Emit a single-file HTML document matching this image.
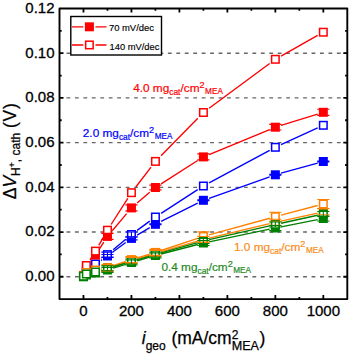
<!DOCTYPE html><html><head><meta charset="utf-8"><style>html,body{margin:0;padding:0;background:#fff;width:350px;height:354px;overflow:hidden}svg{display:block;font-family:"Liberation Sans",sans-serif}</style></head><body><svg width="350" height="354" viewBox="0 0 350 354" font-family="Liberation Sans, sans-serif"><g stroke="#666" stroke-width="1.4" stroke-dasharray="3.8 4.65"><line x1="66.5" y1="232.04" x2="347.3" y2="232.04"/><line x1="66.5" y1="187.33" x2="347.3" y2="187.33"/><line x1="66.5" y1="142.62" x2="347.3" y2="142.62"/><line x1="66.5" y1="97.92" x2="347.3" y2="97.92"/><line x1="66.5" y1="53.21" x2="347.3" y2="53.21"/><line x1="66.5" y1="276.75" x2="347.3" y2="276.75"/></g><path d="M90.69 261.3L91.15 260.7M99.15 249.3L103.79 242.1M112.26 230.7L126.65 213.6M137.15 203.05L149.73 192.35M161.13 183.86L197.7 160.54M209.1 154.55L269.65 129.55M281.05 125.43L317.62 114.07" stroke="#ff0000" stroke-width="1.35" fill="none"/><path d="M89.97 259.8L91.87 256.8M98.75 245.4L104.2 235.9M111.11 224.5L127.8 198.4M135.82 187L151.07 167.1M161.02 155.7L197.81 118.2M209.1 108.29L269.65 63.51M281.05 56.08L317.62 35.42" stroke="#ff0000" stroke-width="1.35" fill="none"/><path d="M101.17 260.72L101.77 260.28M113.17 251.82L125.75 242.58M137.15 235.05L149.73 227.65M161.13 221.45L197.7 203.15M209.1 198.28L269.65 176.82M281.05 173.22L317.62 163.08" stroke="#0000ff" stroke-width="1.35" fill="none"/><path d="M101.17 259.53L101.77 259.07M113.17 249.82L125.75 239.28M137.15 230.34L149.73 221.16M161.13 213.32L197.7 189.68M209.1 182.93L269.65 150.37M281.05 144.69L317.62 127.91" stroke="#0000ff" stroke-width="1.35" fill="none"/><path d="M101.17 269.81L101.77 269.69M113.17 266.6L125.75 262.4M137.15 258.84L149.73 255.16M161.13 251.84L197.7 241.16M209.1 238.14L269.65 223.66M281.05 221.05L317.62 213.05" stroke="#ff8000" stroke-width="1.35" fill="none"/><path d="M101.17 268.81L101.77 268.69M113.17 265.62L125.75 261.48M137.15 257.89L149.73 254.11M161.13 250.5L197.7 238.3M209.1 234.84L269.65 218.26M281.05 215.19L317.62 205.51" stroke="#ff8000" stroke-width="1.35" fill="none"/><path d="M101.17 271.57L101.77 271.43M113.17 268.22L125.75 264.28M137.15 260.84L149.73 257.16M161.13 254.01L197.7 244.49M209.1 241.81L269.65 229.19M281.05 226.87L317.62 219.63" stroke="#008000" stroke-width="1.35" fill="none"/><path d="M101.17 270.29L101.77 270.11M113.17 266.76L125.75 263.14M137.15 259.84L149.73 256.16M161.13 252.9L197.7 242.6M209.1 239.69L269.65 225.81M281.05 223.25L317.62 215.25" stroke="#008000" stroke-width="1.35" fill="none"/><g fill="#0000ff"><rect x="78.98" y="271.8" width="9" height="9"/><rect x="81.86" y="267.5" width="9" height="9"/><rect x="90.97" y="260.5" width="9" height="9"/><rect x="102.97" y="251.5" width="9" height="9"/><rect x="126.95" y="233.9" width="9" height="9"/><rect x="150.93" y="219.8" width="9" height="9"/><rect x="198.9" y="195.8" width="9" height="9"/><rect x="270.85" y="170.3" width="9" height="9"/><rect x="318.82" y="157" width="9" height="9"/></g><g fill="#fff" stroke="#0000ff" stroke-width="1.5"><rect x="79.73" y="272.05" width="7.5" height="7.5"/><rect x="82.61" y="267.25" width="7.5" height="7.5"/><rect x="91.72" y="260.25" width="7.5" height="7.5"/><rect x="103.72" y="250.85" width="7.5" height="7.5"/><rect x="127.7" y="230.75" width="7.5" height="7.5"/><rect x="151.68" y="213.25" width="7.5" height="7.5"/><rect x="199.65" y="182.25" width="7.5" height="7.5"/><rect x="271.6" y="143.55" width="7.5" height="7.5"/><rect x="319.57" y="121.55" width="7.5" height="7.5"/></g><g fill="#ff0000"><rect x="78.98" y="271.3" width="9" height="9"/><rect x="81.86" y="262.5" width="9" height="9"/><rect x="90.97" y="250.5" width="9" height="9"/><rect x="102.97" y="231.9" width="9" height="9"/><rect x="126.95" y="203.4" width="9" height="9"/><rect x="150.93" y="183" width="9" height="9"/><rect x="198.9" y="152.4" width="9" height="9"/><rect x="270.85" y="122.7" width="9" height="9"/><rect x="318.82" y="107.8" width="9" height="9"/></g><g fill="#fff" stroke="#ff0000" stroke-width="1.5"><rect x="79.73" y="271.65" width="7.5" height="7.5"/><rect x="82.61" y="261.75" width="7.5" height="7.5"/><rect x="91.72" y="247.35" width="7.5" height="7.5"/><rect x="103.72" y="226.45" width="7.5" height="7.5"/><rect x="127.7" y="188.95" width="7.5" height="7.5"/><rect x="151.68" y="157.65" width="7.5" height="7.5"/><rect x="199.65" y="108.75" width="7.5" height="7.5"/><rect x="271.6" y="55.55" width="7.5" height="7.5"/><rect x="319.57" y="28.45" width="7.5" height="7.5"/></g><g fill="#ff8000"><rect x="78.98" y="271.8" width="9" height="9"/><rect x="81.86" y="268.5" width="9" height="9"/><rect x="90.97" y="266.5" width="9" height="9"/><rect x="102.97" y="264" width="9" height="9"/><rect x="126.95" y="256" width="9" height="9"/><rect x="150.93" y="249" width="9" height="9"/><rect x="198.9" y="235" width="9" height="9"/><rect x="270.85" y="217.8" width="9" height="9"/><rect x="318.82" y="207.3" width="9" height="9"/></g><g fill="#fff" stroke="#ff8000" stroke-width="1.5"><rect x="79.73" y="272.25" width="7.5" height="7.5"/><rect x="82.61" y="268.75" width="7.5" height="7.5"/><rect x="91.72" y="266.25" width="7.5" height="7.5"/><rect x="103.72" y="263.75" width="7.5" height="7.5"/><rect x="127.7" y="255.85" width="7.5" height="7.5"/><rect x="151.68" y="248.65" width="7.5" height="7.5"/><rect x="199.65" y="232.65" width="7.5" height="7.5"/><rect x="271.6" y="212.95" width="7.5" height="7.5"/><rect x="319.57" y="200.25" width="7.5" height="7.5"/></g><g fill="#008000"><rect x="78.98" y="272.3" width="9" height="9"/><rect x="81.86" y="270.5" width="9" height="9"/><rect x="90.97" y="268.5" width="9" height="9"/><rect x="102.97" y="265.5" width="9" height="9"/><rect x="126.95" y="258" width="9" height="9"/><rect x="150.93" y="251" width="9" height="9"/><rect x="198.9" y="238.5" width="9" height="9"/><rect x="270.85" y="223.5" width="9" height="9"/><rect x="318.82" y="214" width="9" height="9"/></g><g fill="#fff" stroke="#008000" stroke-width="1.5"><rect x="79.73" y="272.45" width="7.5" height="7.5"/><rect x="82.61" y="270.25" width="7.5" height="7.5"/><rect x="91.72" y="268.25" width="7.5" height="7.5"/><rect x="103.72" y="264.65" width="7.5" height="7.5"/><rect x="127.7" y="257.75" width="7.5" height="7.5"/><rect x="151.68" y="250.75" width="7.5" height="7.5"/><rect x="199.65" y="237.25" width="7.5" height="7.5"/><rect x="271.6" y="220.75" width="7.5" height="7.5"/><rect x="319.57" y="210.25" width="7.5" height="7.5"/></g><path d="M101.37 254.5L113.57 254.5M101.37 257.5L113.57 257.5M125.35 236.9L137.55 236.9M125.35 239.9L137.55 239.9M149.33 223.9L161.53 223.9M149.33 224.7L161.53 224.7M197.3 199.9L209.5 199.9M197.3 200.7L209.5 200.7M269.25 174.4L281.45 174.4M269.25 175.2L281.45 175.2M317.22 161.1L329.42 161.1M317.22 161.9L329.42 161.9" stroke="#0000ff" stroke-width="1.1" fill="none"/><path d="M107.47 252.1L107.47 257.1M101.37 252.1L113.57 252.1M101.37 257.1L113.57 257.1M131.45 232L131.45 237M125.35 232L137.55 232M125.35 237L137.55 237" stroke="#0000ff" stroke-width="1.1" fill="none"/><path d="M101.37 233.4L113.57 233.4M101.37 239.4L113.57 239.4M125.35 204.9L137.55 204.9M125.35 210.9L137.55 210.9M149.33 185.1L161.53 185.1M149.33 189.9L161.53 189.9M197.3 153.9L209.5 153.9M197.3 159.9L209.5 159.9M269.25 124.4L281.45 124.4M269.25 130L281.45 130M317.22 109.2L329.42 109.2M317.22 115.4L329.42 115.4" stroke="#ff0000" stroke-width="1.1" fill="none"/><path d="M101.37 265.5L113.57 265.5M101.37 271.5L113.57 271.5M125.35 257.5L137.55 257.5M125.35 263.5L137.55 263.5M149.33 250.5L161.53 250.5M149.33 256.5L161.53 256.5M197.3 236.5L209.5 236.5M197.3 242.5L209.5 242.5M269.25 219.3L281.45 219.3M269.25 225.3L281.45 225.3M317.22 208.8L329.42 208.8M317.22 214.8L329.42 214.8" stroke="#ff8000" stroke-width="1.1" fill="none"/><path d="M101.37 264.5L113.57 264.5M101.37 270.5L113.57 270.5M125.35 256.6L137.55 256.6M125.35 262.6L137.55 262.6M149.33 249.4L161.53 249.4M149.33 255.4L161.53 255.4M197.3 231.9L209.5 231.9M197.3 240.9L209.5 240.9M269.25 212.2L281.45 212.2M269.25 221.2L281.45 221.2M317.22 199.5L329.42 199.5M317.22 208.5L329.42 208.5" stroke="#ff8000" stroke-width="1.1" fill="none"/><path d="M101.37 267.5L113.57 267.5M101.37 272.5L113.57 272.5M125.35 260L137.55 260M125.35 265L137.55 265M149.33 253L161.53 253M149.33 258L161.53 258M197.3 240.5L209.5 240.5M197.3 245.5L209.5 245.5M269.25 225.5L281.45 225.5M269.25 230.5L281.45 230.5M317.22 216L329.42 216M317.22 221L329.42 221" stroke="#008000" stroke-width="1.1" fill="none"/><path d="M107.47 265.9L107.47 270.9M101.37 265.9L113.57 265.9M101.37 270.9L113.57 270.9M131.45 259L131.45 264M125.35 259L137.55 259M125.35 264L137.55 264M155.43 252L155.43 257M149.33 252L161.53 252M149.33 257L161.53 257M203.4 238.5L203.4 243.5M197.3 238.5L209.5 238.5M197.3 243.5L209.5 243.5M275.35 222L275.35 227M269.25 222L281.45 222M269.25 227L281.45 227M323.32 211.5L323.32 216.5M317.22 211.5L329.42 211.5M317.22 216.5L329.42 216.5" stroke="#008000" stroke-width="1.1" fill="none"/><path d="M83.48 299.1L83.48 295.1M83.48 8.5L83.48 12.5M107.47 299.1L107.47 296.9M107.47 8.5L107.47 10.7M131.45 299.1L131.45 295.1M131.45 8.5L131.45 12.5M155.43 299.1L155.43 296.9M155.43 8.5L155.43 10.7M179.42 299.1L179.42 295.1M179.42 8.5L179.42 12.5M203.4 299.1L203.4 296.9M203.4 8.5L203.4 10.7M227.38 299.1L227.38 295.1M227.38 8.5L227.38 12.5M251.37 299.1L251.37 296.9M251.37 8.5L251.37 10.7M275.35 299.1L275.35 295.1M275.35 8.5L275.35 12.5M299.33 299.1L299.33 296.9M299.33 8.5L299.33 10.7M323.32 299.1L323.32 295.1M323.32 8.5L323.32 12.5M59.5 276.75L63.5 276.75M347.3 276.75L343.3 276.75M59.5 254.39L61.7 254.39M347.3 254.39L345.1 254.39M59.5 232.04L63.5 232.04M347.3 232.04L343.3 232.04M59.5 209.68L61.7 209.68M347.3 209.68L345.1 209.68M59.5 187.33L63.5 187.33M347.3 187.33L343.3 187.33M59.5 164.98L61.7 164.98M347.3 164.98L345.1 164.98M59.5 142.62L63.5 142.62M347.3 142.62L343.3 142.62M59.5 120.27L61.7 120.27M347.3 120.27L345.1 120.27M59.5 97.92L63.5 97.92M347.3 97.92L343.3 97.92M59.5 75.56L61.7 75.56M347.3 75.56L345.1 75.56M59.5 53.21L63.5 53.21M347.3 53.21L343.3 53.21M59.5 30.85L61.7 30.85M347.3 30.85L345.1 30.85" stroke="#000" stroke-width="1.8" fill="none"/><rect x="59.5" y="8.5" width="287.8" height="290.6" fill="none" stroke="#000" stroke-width="1.9" stroke-linejoin="round"/><rect x="70.8" y="16.5" width="90.7" height="38.5" fill="#fff" stroke="#000" stroke-width="1.4"/><path d="M72 26.8H83.3M95.5 26.8H106.5M72 45H83.3M95.5 45H106.5" stroke="#ff0000" stroke-width="1.3"/><rect x="84.9" y="22.3" width="9" height="9" fill="#ff0000"/><rect x="85.65" y="41.2" width="7.5" height="7.5" fill="none" stroke="#ff0000" stroke-width="1.5"/><text x="108.9" y="31.4" font-size="9.45" stroke="#000" stroke-width="0.15">70 mV/dec</text><text x="109.5" y="50.2" font-size="9.35" stroke="#000" stroke-width="0.15">140 mV/dec</text><g font-size="15" stroke="#000" stroke-width="0.3"><text x="54.5" y="281.15" text-anchor="end">0.00</text><text x="54.5" y="236.44" text-anchor="end">0.02</text><text x="54.5" y="191.73" text-anchor="end">0.04</text><text x="54.5" y="147.02" text-anchor="end">0.06</text><text x="54.5" y="102.32" text-anchor="end">0.08</text><text x="54.5" y="57.61" text-anchor="end">0.10</text><text x="54.5" y="12.9" text-anchor="end">0.12</text><text x="83.48" y="316" text-anchor="middle">0</text><text x="131.45" y="316" text-anchor="middle">200</text><text x="179.42" y="316" text-anchor="middle">400</text><text x="227.38" y="316" text-anchor="middle">600</text><text x="275.35" y="316" text-anchor="middle">800</text><text x="323.32" y="316" text-anchor="middle">1000</text></g><text x="133.2" y="92" font-size="11.8" fill="#ff0000" stroke="#ff0000" stroke-width="0.2">4.0 mg<tspan font-size="8.4" dy="2.6">cat</tspan><tspan dy="-2.6">/cm</tspan><tspan font-size="9.2" dy="-4.3">2</tspan><tspan font-size="8.2" dy="6.3" dx="0.5">MEA</tspan></text><text x="82.8" y="136.9" font-size="11.8" fill="#0000ff" stroke="#0000ff" stroke-width="0.2">2.0 mg<tspan font-size="8.4" dy="2.6">cat</tspan><tspan dy="-2.6">/cm</tspan><tspan font-size="9.2" dy="-4.3">2</tspan><tspan font-size="8.2" dy="6.3" dx="0.5">MEA</tspan></text><text x="234" y="250.9" font-size="11.8" fill="#f98d22" stroke="#f98d22" stroke-width="0.2">1.0 mg<tspan font-size="8.4" dy="2.6">cat</tspan><tspan dy="-2.6">/cm</tspan><tspan font-size="9.2" dy="-4.3">2</tspan><tspan font-size="8.2" dy="6.3" dx="0.5">MEA</tspan></text><text x="161.4" y="271.2" font-size="11.8" fill="#1f8a1f" stroke="#1f8a1f" stroke-width="0.2">0.4 mg<tspan font-size="8.4" dy="2.6">cat</tspan><tspan dy="-2.6">/cm</tspan><tspan font-size="9.2" dy="-4.3">2</tspan><tspan font-size="8.2" dy="6.3" dx="0.5">MEA</tspan></text><text x="141.8" y="344.3" font-size="17.5" stroke="#000" stroke-width="0.25"><tspan font-style="italic">i</tspan><tspan font-size="12" dy="5.6">geo</tspan><tspan dy="-5.6" dx="0.8"> (mA/cm</tspan><tspan font-size="12" dy="-5.6">2</tspan><tspan font-size="12.6" dy="11.4" dx="-6.7">MEA</tspan><tspan dy="-5.8" dx="0.6">)</tspan></text><text transform="translate(15.7 199.3) rotate(-90)" font-size="17.5" stroke="#000" stroke-width="0.25">&#916;<tspan font-style="italic">V</tspan><tspan font-size="12" dy="4.6">H</tspan><tspan font-size="9" dy="-5.6" dx="-0.2">+</tspan><tspan font-size="12" dy="5.6">, cath</tspan><tspan dy="-4.6"> </tspan><tspan letter-spacing="0.7">(V)</tspan></text></svg></body></html>
